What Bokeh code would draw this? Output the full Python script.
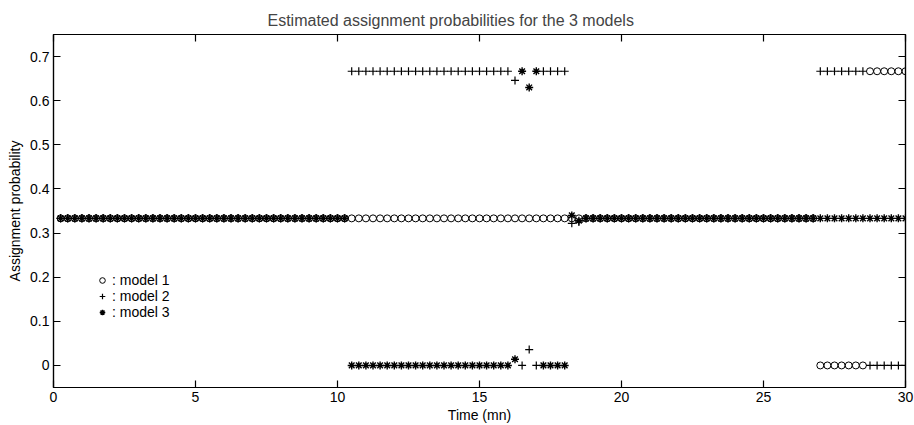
from bokeh.plotting import figure
from bokeh.models import (ColumnDataSource, FixedTicker, LinearAxis, Range1d,
                          Legend, LegendItem, CustomJSTickFormatter)
from bokeh.embed import file_html
from bokeh.resources import INLINE

# ---- data ----
time = [
    0.25, 0.5, 0.75, 1.0, 1.25, 1.5, 1.75, 2.0, 2.25, 2.5,
    2.75, 3.0, 3.25, 3.5, 3.75, 4.0, 4.25, 4.5, 4.75, 5.0,
    5.25, 5.5, 5.75, 6.0, 6.25, 6.5, 6.75, 7.0, 7.25, 7.5,
    7.75, 8.0, 8.25, 8.5, 8.75, 9.0, 9.25, 9.5, 9.75, 10.0,
    10.25, 10.5, 10.75, 11.0, 11.25, 11.5, 11.75, 12.0, 12.25, 12.5,
    12.75, 13.0, 13.25, 13.5, 13.75, 14.0, 14.25, 14.5, 14.75, 15.0,
    15.25, 15.5, 15.75, 16.0, 16.25, 16.5, 16.75, 17.0, 17.25, 17.5,
    17.75, 18.0, 18.25, 18.5, 18.75, 19.0, 19.25, 19.5, 19.75, 20.0,
    20.25, 20.5, 20.75, 21.0, 21.25, 21.5, 21.75, 22.0, 22.25, 22.5,
    22.75, 23.0, 23.25, 23.5, 23.75, 24.0, 24.25, 24.5, 24.75, 25.0,
    25.25, 25.5, 25.75, 26.0, 26.25, 26.5, 26.75, 27.0, 27.25, 27.5,
    27.75, 28.0, 28.25, 28.5, 28.75, 29.0, 29.25, 29.5, 29.75, 30.0,
]

model1 = [
    0.3333, 0.3333, 0.3333, 0.3333, 0.3333, 0.3333, 0.3333, 0.3333, 0.3333, 0.3333,
    0.3333, 0.3333, 0.3333, 0.3333, 0.3333, 0.3333, 0.3333, 0.3333, 0.3333, 0.3333,
    0.3333, 0.3333, 0.3333, 0.3333, 0.3333, 0.3333, 0.3333, 0.3333, 0.3333, 0.3333,
    0.3333, 0.3333, 0.3333, 0.3333, 0.3333, 0.3333, 0.3333, 0.3333, 0.3333, 0.3333,
    0.3333, 0.3333, 0.3333, 0.3333, 0.3333, 0.3333, 0.3333, 0.3333, 0.3333, 0.3333,
    0.3333, 0.3333, 0.3333, 0.3333, 0.3333, 0.3333, 0.3333, 0.3333, 0.3333, 0.3333,
    0.3333, 0.3333, 0.3333, 0.3333, 0.3333, 0.3333, 0.3333, 0.3333, 0.3333, 0.3333,
    0.3333, 0.3333, 0.3333, 0.3333, 0.3333, 0.3333, 0.3333, 0.3333, 0.3333, 0.3333,
    0.3333, 0.3333, 0.3333, 0.3333, 0.3333, 0.3333, 0.3333, 0.3333, 0.3333, 0.3333,
    0.3333, 0.3333, 0.3333, 0.3333, 0.3333, 0.3333, 0.3333, 0.3333, 0.3333, 0.3333,
    0.3333, 0.3333, 0.3333, 0.3333, 0.3333, 0.3333, 0.3333, 0.0, 0.0, 0.0,
    0.0, 0.0, 0.0, 0.0, 0.6667, 0.6667, 0.6667, 0.6667, 0.6667, 0.6667,
]

model2 = [
    0.3333, 0.3333, 0.3333, 0.3333, 0.3333, 0.3333, 0.3333, 0.3333, 0.3333, 0.3333,
    0.3333, 0.3333, 0.3333, 0.3333, 0.3333, 0.3333, 0.3333, 0.3333, 0.3333, 0.3333,
    0.3333, 0.3333, 0.3333, 0.3333, 0.3333, 0.3333, 0.3333, 0.3333, 0.3333, 0.3333,
    0.3333, 0.3333, 0.3333, 0.3333, 0.3333, 0.3333, 0.3333, 0.3333, 0.3333, 0.3333,
    0.3333, 0.6667, 0.6667, 0.6667, 0.6667, 0.6667, 0.6667, 0.6667, 0.6667, 0.6667,
    0.6667, 0.6667, 0.6667, 0.6667, 0.6667, 0.6667, 0.6667, 0.6667, 0.6667, 0.6667,
    0.6667, 0.6667, 0.6667, 0.6667, 0.646, 0.0, 0.036, 0.0, 0.6667, 0.6667,
    0.6667, 0.6667, 0.322, 0.325, 0.3333, 0.3333, 0.3333, 0.3333, 0.3333, 0.3333,
    0.3333, 0.3333, 0.3333, 0.3333, 0.3333, 0.3333, 0.3333, 0.3333, 0.3333, 0.3333,
    0.3333, 0.3333, 0.3333, 0.3333, 0.3333, 0.3333, 0.3333, 0.3333, 0.3333, 0.3333,
    0.3333, 0.3333, 0.3333, 0.3333, 0.3333, 0.3333, 0.3333, 0.6667, 0.6667, 0.6667,
    0.6667, 0.6667, 0.6667, 0.6667, 0.0, 0.0, 0.0, 0.0, 0.0, 0.0,
]

model3 = [
    0.3333, 0.3333, 0.3333, 0.3333, 0.3333, 0.3333, 0.3333, 0.3333, 0.3333, 0.3333,
    0.3333, 0.3333, 0.3333, 0.3333, 0.3333, 0.3333, 0.3333, 0.3333, 0.3333, 0.3333,
    0.3333, 0.3333, 0.3333, 0.3333, 0.3333, 0.3333, 0.3333, 0.3333, 0.3333, 0.3333,
    0.3333, 0.3333, 0.3333, 0.3333, 0.3333, 0.3333, 0.3333, 0.3333, 0.3333, 0.3333,
    0.3333, 0.0, 0.0, 0.0, 0.0, 0.0, 0.0, 0.0, 0.0, 0.0,
    0.0, 0.0, 0.0, 0.0, 0.0, 0.0, 0.0, 0.0, 0.0, 0.0,
    0.0, 0.0, 0.0, 0.0, 0.014, 0.6667, 0.63, 0.6667, 0.0, 0.0,
    0.0, 0.0, 0.34, 0.328, 0.3333, 0.3333, 0.3333, 0.3333, 0.3333, 0.3333,
    0.3333, 0.3333, 0.3333, 0.3333, 0.3333, 0.3333, 0.3333, 0.3333, 0.3333, 0.3333,
    0.3333, 0.3333, 0.3333, 0.3333, 0.3333, 0.3333, 0.3333, 0.3333, 0.3333, 0.3333,
    0.3333, 0.3333, 0.3333, 0.3333, 0.3333, 0.3333, 0.3333, 0.3333, 0.3333, 0.3333,
    0.3333, 0.3333, 0.3333, 0.3333, 0.3333, 0.3333, 0.3333, 0.3333, 0.3333, 0.3333,
]

x_ticks = [0, 5, 10, 15, 20, 25, 30]
y_ticks = [0, 0.1, 0.2, 0.3, 0.4, 0.5, 0.6, 0.7]

title_text = "Estimated assignment probabilities for the 3 models"
x_label = "Time (mn)"
y_label = "Assignment probability"
legend_labels = [": model 1", ": model 2", ": model 3"]

FONT = "Liberation Sans"

source = ColumnDataSource(dict(t=time, m1=model1, m2=model2, m3=model3))

p = figure(width=914, height=425, output_backend="svg", toolbar_location=None,
           x_range=Range1d(0, 30), y_range=Range1d(-0.05, 0.75),
           min_border_left=53, min_border_right=9, min_border_top=34,
           min_border_bottom=38, x_axis_location=None, y_axis_location=None)
p.grid.visible = False
p.background_fill_color = "white"
p.outline_line_color = "black"
p.outline_line_width = 1.2

p.title.text = title_text
p.title.align = "left"
p.title.offset = 214
p.title.text_font = FONT
p.title.text_font_size = "16px"
p.title.text_font_style = "normal"
p.title.standoff = 12

yfmt = CustomJSTickFormatter(code="return tick == 0 ? '0' : tick.toFixed(1);")
blank = CustomJSTickFormatter(code="return '';")

def make_axis(ticker, labels=True, fmt=None):
    ax = LinearAxis(ticker=FixedTicker(ticks=ticker))
    ax.major_tick_in = 7
    ax.major_tick_out = 0
    ax.minor_tick_in = 0
    ax.minor_tick_out = 0
    ax.axis_line_color = "black"
    ax.axis_line_width = 1.2
    ax.major_tick_line_color = "black"
    ax.major_tick_line_width = 1.2
    ax.major_label_text_font = FONT
    ax.major_label_text_font_size = "14px"
    ax.major_label_text_color = "black"
    ax.major_label_standoff = 4 if labels else 0
    ax.axis_label_text_font = FONT
    ax.axis_label_text_font_size = "14px"
    ax.axis_label_text_font_style = "normal"
    ax.axis_label_text_color = "black"
    ax.axis_label_standoff = 2
    if not labels:
        ax.formatter = blank
    elif fmt is not None:
        ax.formatter = fmt
    return ax

xb = make_axis(x_ticks)
xb.axis_label = x_label
p.add_layout(xb, "below")
yl = make_axis(y_ticks, fmt=yfmt)
yl.axis_label = y_label
yl.axis_label_standoff = 4
p.add_layout(yl, "left")
p.add_layout(make_axis(x_ticks, labels=False), "above")
p.add_layout(make_axis(y_ticks, labels=False), "right")

r1 = p.scatter("t", "m1", source=source, marker="circle", size=7,
               fill_color=None, line_color="black", line_width=1)
r2 = p.scatter("t", "m2", source=source, marker="cross", size=8,
               line_color="black", line_width=1.2)
r3 = p.scatter("t", "m3", source=source, marker="asterisk", size=8,
               line_color="black", line_width=1.4)

legend = Legend(items=[LegendItem(label=legend_labels[0], renderers=[r1]),
                       LegendItem(label=legend_labels[1], renderers=[r2]),
                       LegendItem(label=legend_labels[2], renderers=[r3])],
                location=(42, 67))
legend.background_fill_alpha = 0
legend.border_line_alpha = 0
legend.padding = 0
legend.margin = 0
legend.spacing = 0
legend.glyph_width = 14
legend.glyph_height = 16
legend.label_height = 16
legend.label_standoff = 3
legend.label_text_font = FONT
legend.label_text_font_size = "14px"
legend.label_text_color = "black"
p.add_layout(legend, "center")

open("out.html", "w").write(file_html(p, INLINE))
